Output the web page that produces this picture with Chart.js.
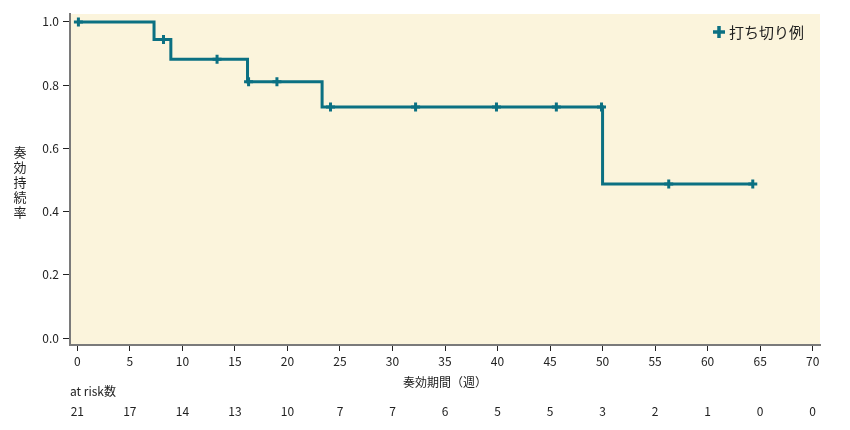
<!DOCTYPE html>
<html>
<head>
<meta charset="utf-8">
<script src="https://cdn.jsdelivr.net/npm/chart.js@4"></script>
<style>
  body { margin: 0; background: #fff; }
  #wrap { width: 850px; height: 430px; }
</style>
</head>
<body>
<div id="wrap"><canvas id="kmChart"></canvas></div>
<script>
// survival curve: event times and the level after each drop
const stepWeeks = [0, 7.3, 8.9, 16.2, 23.3, 50.0, 64.3];
const stepRates = [1.0, 0.944, 0.882, 0.811, 0.731, 0.487, 0.487];
// censored cases (打ち切り例)
const censorWeeks = [0.1, 8.2, 13.3, 16.3, 19.0, 24.1, 32.2, 39.9, 45.6, 49.9, 56.3, 64.3];
const censorRates = [1.0, 0.944, 0.882, 0.811, 0.811, 0.731, 0.731, 0.731, 0.731, 0.731, 0.487, 0.487];
// number at risk under each x tick
const riskTicks = [0, 5, 10, 15, 20, 25, 30, 35, 40, 45, 50, 55, 60, 65, 70];
const atRisk = [21, 17, 14, 13, 10, 7, 7, 6, 5, 5, 3, 2, 1, 0, 0];

const yTitle = ['奏', '効', '持', '続', '率'];
const xTitle = '奏効期間（週）';
const legendText = '打ち切り例';
const fontFam = '"Noto Sans CJK JP", "Noto Sans", sans-serif';
const teal = '#0b7082';
const textCol = '#222';

// paint plot area, titles, legend and at-risk table
const extras = {
  id: 'extras',
  beforeDraw(chart) {
    const a = chart.chartArea;
    const c = chart.ctx;
    c.save();
    c.fillStyle = '#fbf4dc';
    c.fillRect(a.left, a.top, a.right - a.left, a.bottom - a.top);
    c.restore();
  },
  afterDraw(chart) {
    const c = chart.ctx;
    const xs = chart.scales.x;
    const a = chart.chartArea;
    c.save();
    c.fillStyle = textCol;
    c.font = '13px ' + fontFam;
    c.textAlign = 'center';
    c.textBaseline = 'middle';
    yTitle.forEach((ch, i) => c.fillText(ch, 20, 152 + i * 15));

    c.font = '12px ' + fontFam;
    c.fillText(xTitle, (a.left + a.right) / 2, 382);

    c.textAlign = 'left';
    c.fillText('at risk数', 70, 391);
    c.textAlign = 'center';
    riskTicks.forEach((t, i) => {
      c.fillText(String(atRisk[i]), xs.getPixelForValue(t), 411);
    });

    // legend
    c.strokeStyle = teal;
    c.lineWidth = 3.5;
    c.beginPath();
    c.moveTo(713, 32); c.lineTo(725, 32);
    c.moveTo(719, 26); c.lineTo(719, 38);
    c.stroke();
    c.fillStyle = textCol;
    c.font = '15px ' + fontFam;
    c.textAlign = 'left';
    c.fillText(legendText, 729, 32);
    c.restore();
  }
};

const ctx = document.getElementById('kmChart').getContext('2d');
const chart = new Chart(ctx, {
  type: 'scatter',
  data: {
    datasets: [
      {
        label: 'curve',
        data: stepWeeks.map((x, i) => ({ x: x, y: stepRates[i] })),
        showLine: true,
        stepped: true,
        borderColor: teal,
        borderWidth: 3,
        pointRadius: 0,
        fill: false
      },
      {
        label: legendText,
        data: censorWeeks.map((x, i) => ({ x: x, y: censorRates[i] })),
        showLine: false,
        pointStyle: 'cross',
        pointRadius: 4.5,
        borderColor: teal,
        backgroundColor: teal,
        pointBorderWidth: 3
      }
    ]
  },
  options: {
    responsive: true,
    maintainAspectRatio: false,
    animation: false,
    layout: { padding: { top: 14, right: 30, left: 0, bottom: 0 } },
    plugins: {
      legend: { display: false },
      tooltip: { enabled: false }
    },
    scales: {
      x: {
        type: 'linear',
        min: -0.7,
        max: 70.7,
        afterFit: s => { s.height = 85; },
        afterBuildTicks: s => { s.ticks = riskTicks.map(v => ({ value: v })); },
        border: { display: true, color: '#7a7a7a', width: 2 },
        grid: { drawOnChartArea: false, drawTicks: true, tickLength: 6, color: '#222', tickWidth: 1 },
        ticks: { color: textCol, font: { family: fontFam, size: 12 }, padding: 3, maxRotation: 0 }
      },
      y: {
        type: 'linear',
        min: -0.022,
        max: 1.025,
        afterFit: s => { s.width = 70; },
        afterBuildTicks: s => { s.ticks = [0, 0.2, 0.4, 0.6, 0.8, 1.0].map(v => ({ value: v })); },
        border: { display: true, color: '#7a7a7a', width: 2 },
        grid: { drawOnChartArea: false, drawTicks: true, tickLength: 7, color: '#222', tickWidth: 1 },
        ticks: {
          color: textCol,
          font: { family: fontFam, size: 12 },
          padding: 4,
          callback: v => v.toFixed(1)
        }
      }
    }
  },
  plugins: [extras]
});
</script>
</body>
</html>
